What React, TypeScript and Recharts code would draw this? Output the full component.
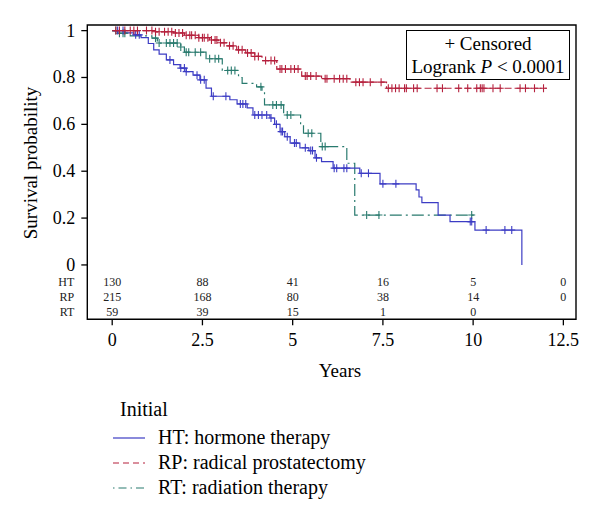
import {
  ComposedChart,
  Line,
  Scatter,
  XAxis,
  YAxis,
  ReferenceArea,
} from 'recharts'

// Kaplan-Meier step points (time in years, survival probability)
const htTime = [0, 0.35, 0.6, 0.8, 1.0, 1.15, 1.3, 1.5, 1.7, 1.88, 2.05, 2.24, 2.43, 2.6, 2.75, 3.26, 3.46, 3.74, 3.9, 4.37, 4.5, 4.65, 4.78, 4.93, 5.2, 5.45, 5.62, 5.8, 6.12, 6.86, 7.42, 8.42, 8.5, 8.58, 9.03, 9.36, 10.05, 11.35]
const htSurv = [1, 0.99, 0.982, 0.97, 0.945, 0.918, 0.9, 0.875, 0.855, 0.84, 0.825, 0.81, 0.79, 0.755, 0.72, 0.705, 0.687, 0.67, 0.64, 0.627, 0.6, 0.569, 0.547, 0.52, 0.5, 0.488, 0.457, 0.441, 0.413, 0.391, 0.346, 0.32, 0.29, 0.266, 0.213, 0.185, 0.149, 0]
const htCensor = [0.15, 0.3, 0.65, 0.75, 1.6, 1.9, 2.0, 2.05, 2.35, 2.45, 2.55, 2.8, 3.15, 3.55, 3.62, 3.7, 3.95, 4.05, 4.15, 4.28, 4.4, 4.55, 4.68, 4.72, 4.85, 5.05, 5.1, 5.35, 5.5, 5.55, 5.66, 6.15, 6.22, 6.42, 6.5, 6.9, 7.1, 7.5, 7.86, 9.92, 9.96, 10.36, 10.88, 11.07]

const rpTime = [0, 1.2, 1.7, 2.0, 2.4, 2.7, 2.95, 3.2, 3.45, 3.7, 3.95, 4.15, 4.56, 5.25, 5.8, 6.59, 7.6, 12.04]
const rpSurv = [1, 0.995, 0.99, 0.98, 0.97, 0.96, 0.948, 0.935, 0.918, 0.905, 0.89, 0.872, 0.836, 0.806, 0.795, 0.78, 0.754, 0.754]
const rpCensor = [0.1, 0.2, 0.35, 0.5, 0.6, 0.7, 0.95, 1.1, 1.2, 1.3, 1.45, 1.55, 1.65, 1.75, 1.85, 1.95, 2.05, 2.15, 2.2, 2.3, 2.4, 2.5, 2.55, 2.65, 2.75, 2.85, 2.9, 3.0, 3.1, 3.25, 3.35, 3.5, 3.6, 3.75, 3.85, 3.95, 4.05, 4.25, 4.4, 4.5, 4.65, 4.7, 4.8, 4.95, 5.05, 5.15, 5.35, 5.4, 5.5, 5.65, 5.9, 5.95, 6.15, 6.3, 6.4, 6.5, 6.75, 6.85, 6.95, 7.15, 7.45, 7.65, 7.75, 7.85, 7.95, 8.1, 8.15, 8.35, 8.45, 9.0, 9.15, 9.6, 9.85, 10.1, 10.2, 10.25, 10.3, 10.55, 10.75, 11.3, 11.45, 11.7, 11.95]

const rtTime = [0, 0.15, 0.5, 1.1, 1.25, 1.9, 2.0, 2.6, 3.05, 3.5, 3.6, 4.0, 4.15, 4.22, 4.75, 5.22, 5.3, 5.78, 6.5, 6.72, 10.05]
const rtSurv = [1, 0.989, 0.978, 0.968, 0.947, 0.93, 0.908, 0.88, 0.83, 0.8, 0.775, 0.76, 0.74, 0.683, 0.64, 0.6, 0.562, 0.505, 0.434, 0.213, 0.213]
const rtCensor = [0.1, 0.2, 0.3, 0.35, 1.2, 1.3, 1.5, 1.6, 1.7, 1.8, 1.9, 2.05, 2.12, 2.3, 2.45, 2.7, 2.85, 2.95, 3.2, 3.3, 3.4, 4.12, 4.45, 4.55, 4.68, 4.85, 4.95, 5.43, 5.53, 5.82, 5.9, 7.05, 7.39, 9.96]

// number at risk table
const riskTimes = [0, 2.5, 5, 7.5, 10, 12.5]
const htRisk = [130, 88, 41, 16, 5, 0]
const rpRisk = [215, 168, 80, 38, 14, 0]
const rtRisk = [59, 39, 15, 1, 0]
const rowLabels = ['HT', 'RP', 'RT']
const rowY = [-0.074, -0.135, -0.199]

const xTicks = [0, 2.5, 5, 7.5, 10, 12.5]
const yTicks = [0, 0.2, 0.4, 0.6, 0.8, 1]

const HT_COLOR = '#3c3cc4'
const RP_COLOR = '#b5203d'
const RT_COLOR = '#287a6e'
const RP_DASH = '7 3'
const RT_DASH = '12 4 2 4'

const steps = (time: number[], surv: number[]) => time.map((t, i) => ({ t, s: surv[i] }))

const survAt = (time: number[], surv: number[], t: number) => {
  let s = surv[0]
  for (let i = 0; i < time.length; i++) if (time[i] <= t) s = surv[i]
  return s
}

const censored = (time: number[], surv: number[], cens: number[]) =>
  cens.map((t) => ({ t, s: survAt(time, surv, t) }))

const riskRows = [htRisk, rpRisk, rtRisk].flatMap((row, r) =>
  row.map((n, i) => ({ t: riskTimes[i], s: rowY[r], n }))
)

const plus = (color: string) => (props: any) => {
  const { cx, cy } = props
  if (cx == null || cy == null) return <g />
  return (
    <g stroke={color} strokeWidth={1.1}>
      <line x1={cx - 3.5} x2={cx + 3.5} y1={cy} y2={cy} />
      <line x1={cx} x2={cx} y1={cy - 4} y2={cy + 4} />
    </g>
  )
}

const riskText = (props: any) => {
  const { cx, cy, payload } = props
  return (
    <text x={cx} y={cy} textAnchor='middle' dominantBaseline='central' fontSize={12} fill='#222'>
      {payload.n}
    </text>
  )
}

function YTick(props: any) {
  const { x, y, payload } = props
  const v = payload.value
  if (v < 0) {
    return (
      <text x={x - 1} y={y} textAnchor='end' dominantBaseline='central' fontSize={12} fill='#222'>
        {rowLabels[rowY.indexOf(v)]}
      </text>
    )
  }
  return (
    <g>
      <line x1={x + 6} x2={x + 12} y1={y} y2={y} stroke='#000' strokeWidth={1.3} />
      <text x={x} y={y} textAnchor='end' dominantBaseline='central' fontSize={18} fill='#000'>
        {v}
      </text>
    </g>
  )
}

const legendItems = [
  { label: 'HT: hormone therapy', color: HT_COLOR, dash: undefined },
  { label: 'RP: radical prostatectomy', color: RP_COLOR, dash: '6 4' },
  { label: 'RT: radiation therapy', color: RT_COLOR, dash: '1.5 4 8 4' },
]

export default function App() {
  const font = '"Liberation Serif", "Times New Roman", serif'
  return (
    <div style={{ position: 'absolute', left: 0, top: 0, width: 600, height: 518, fontFamily: font, background: '#fff' }}>
      <ComposedChart width={600} height={518} margin={{ top: 25, right: 24, bottom: 138.7, left: 0 }}>
        <XAxis
          dataKey='t'
          type='number'
          domain={[-0.69, 12.85]}
          ticks={xTicks}
          interval={0}
          allowDataOverflow
          height={60}
          axisLine={false}
          tickSize={6}
          tickMargin={8}
          tickLine={{ stroke: '#000', strokeWidth: 1.3 }}
          tick={{ fill: '#000', fontSize: 18 }}
          label={{
            content: () => (
              <text x={340} y={377} textAnchor='middle' fontSize={19} fill='#000'>
                Years
              </text>
            ),
          }}
        />
        <YAxis
          dataKey='s'
          type='number'
          domain={[-0.232, 1.024]}
          ticks={[...rowY, ...yTicks]}
          interval={0}
          allowDataOverflow
          width={87.3}
          axisLine={false}
          tickLine={false}
          tickSize={6}
          tickMargin={6}
          tick={<YTick />}
          label={{
            content: () => (
              <text
                transform='translate(37,163) rotate(-90)'
                textAnchor='middle'
                fontSize={19}
                fill='#000'
              >
                Survival probability
              </text>
            ),
          }}
        />
        <ReferenceArea x1={-0.69} x2={12.85} y1={-0.232} y2={1.024} fill='none' stroke='#000' strokeWidth={1.4} ifOverflow='visible' />
        <Line data={steps(rtTime, rtSurv)} dataKey='s' type='stepAfter' stroke={RT_COLOR} strokeWidth={1.2} strokeDasharray={RT_DASH} dot={false} activeDot={false} isAnimationActive={false} />
        <Line data={steps(htTime, htSurv)} dataKey='s' type='stepAfter' stroke={HT_COLOR} strokeWidth={1.2} dot={false} activeDot={false} isAnimationActive={false} />
        <Line data={steps(rpTime, rpSurv)} dataKey='s' type='stepAfter' stroke={RP_COLOR} strokeWidth={1.2} strokeDasharray={RP_DASH} dot={false} activeDot={false} isAnimationActive={false} />
        <Scatter data={censored(rtTime, rtSurv, rtCensor)} dataKey='s' shape={plus(RT_COLOR)} isAnimationActive={false} />
        <Scatter data={censored(htTime, htSurv, htCensor)} dataKey='s' shape={plus(HT_COLOR)} isAnimationActive={false} />
        <Scatter data={censored(rpTime, rpSurv, rpCensor)} dataKey='s' shape={plus(RP_COLOR)} isAnimationActive={false} />
        <Scatter data={riskRows} dataKey='s' shape={riskText} isAnimationActive={false} />
      </ComposedChart>

      <div
        style={{
          position: 'absolute',
          left: 406,
          top: 30,
          width: 164,
          height: 50,
          border: '1.4px solid #000',
          background: '#fff',
          fontSize: 19,
          lineHeight: '23px',
          textAlign: 'center',
          paddingTop: 1,
          boxSizing: 'border-box',
        }}
      >
        <div>+ Censored</div>
        <div>
          Logrank <i>P</i> &lt; 0.0001
        </div>
      </div>

      <div style={{ position: 'absolute', left: 120, top: 397, fontSize: 20, lineHeight: '25px' }}>Initial</div>
      {legendItems.map((it, i) => (
        <div
          key={it.label}
          style={{ position: 'absolute', left: 112, top: 425 + i * 25, height: 25, display: 'flex', alignItems: 'center', fontSize: 20, whiteSpace: 'nowrap' }}
        >
          <svg width={34} height={10} style={{ marginRight: 12 }}>
            <line x1={1} x2={33} y1={5} y2={5} stroke={it.color} strokeWidth={1.2} strokeDasharray={it.dash} />
          </svg>
          {it.label}
        </div>
      ))}
    </div>
  )
}
